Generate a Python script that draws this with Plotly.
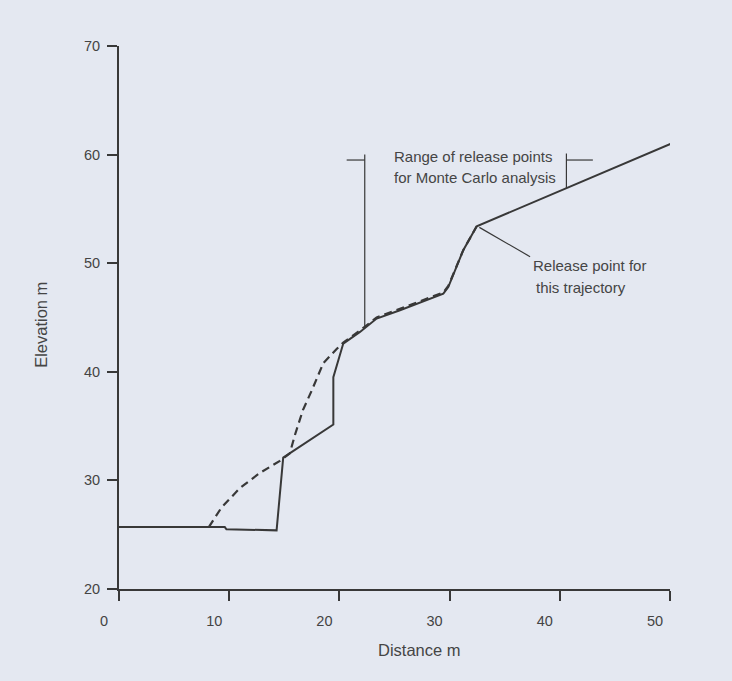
import plotly.graph_objects as go

# Ground profile (solid)
profile_x = [0, 9.6, 9.75, 14.3, 14.9, 19.45, 19.45, 20.35, 21.87, 23.38, 25.5, 27.92, 29.43, 29.88, 31.24, 32.46, 50.3]
profile_y = [25.7, 25.7, 25.5, 25.4, 32.1, 35.15, 39.5, 42.6, 43.67, 44.9, 45.67, 46.6, 47.2, 47.8, 51.2, 53.4, 61.1]

# Rockfall trajectory (dashed)
traj_x = [8.15, 9.3, 10.98, 12.8, 14.6, 15.5, 16.0, 16.7, 17.5, 18.54, 19.75, 20.35, 21.87, 23.38, 25.5, 27.92, 29.43, 29.88, 31.24, 32.46]
traj_y = [25.7, 27.5, 29.3, 30.7, 31.8, 32.5, 34.3, 36.5, 38.3, 40.8, 42.1, 42.7, 43.8, 45.0, 45.8, 46.7, 47.3, 47.9, 51.2, 53.4]

# Bracket marks for range of release points
bracket_x = [20.66, 22.3, None, 22.3, 22.3, None, 40.6, 43.0, None, 40.6, 40.6]
bracket_y = [59.5, 59.5, None, 60.0, 44.1, None, 59.5, 59.5, None, 60.1, 56.9]

# Leader line to release point
leader_x = [32.7, 37.3]
leader_y = [53.3, 50.6]

# Annotation text lines: (x, y, text)
notes = [
    (24.75, 59.83, "Range of release points"),
    (24.75, 57.87, "for Monte Carlo analysis"),
    (37.39, 49.8, "Release point for"),
    (37.69, 47.8, "this trajectory"),
]

x_ticks = [0, 10, 20, 30, 40, 50]
y_ticks = [20, 30, 40, 50, 60, 70]

BG = "#e4e8f1"
INK = "#383838"
TXT = "#454545"
FONT = "Liberation Sans, Arial, sans-serif"

fig = go.Figure()
fig.add_trace(go.Scatter(x=profile_x, y=profile_y, mode="lines",
                         line=dict(color=INK, width=2), showlegend=False, hoverinfo="skip"))
fig.add_trace(go.Scatter(x=traj_x, y=traj_y, mode="lines",
                         line=dict(color=INK, width=2.2, dash="8px,5px"), showlegend=False, hoverinfo="skip"))
fig.add_trace(go.Scatter(x=bracket_x, y=bracket_y, mode="lines",
                         line=dict(color=INK, width=1.2), showlegend=False, hoverinfo="skip"))
fig.add_trace(go.Scatter(x=leader_x, y=leader_y, mode="lines",
                         line=dict(color=INK, width=1.2), showlegend=False, hoverinfo="skip"))

for nx, ny, t in notes:
    fig.add_annotation(x=nx, y=ny, text=t, showarrow=False, xanchor="left", yanchor="middle",
                       font=dict(family=FONT, size=15, color=TXT))

# Axis titles
fig.add_annotation(xref="paper", yref="paper", x=0.546, y=-0.112, text="Distance m",
                   showarrow=False, xanchor="center", yanchor="middle",
                   font=dict(family=FONT, size=16.5, color=TXT))
fig.add_annotation(xref="paper", yref="paper", x=-0.142, y=0.486, text="Elevation m",
                   showarrow=False, xanchor="center", yanchor="middle", textangle=-90,
                   font=dict(family=FONT, size=16.5, color=TXT))

axis_common = dict(showgrid=False, zeroline=False, showline=True, linecolor=INK, linewidth=2,
                   ticks="outside", tickcolor=INK, tickwidth=2, ticklen=10,
                   tickfont=dict(family=FONT, size=14.5, color="#444444"))

fig.update_xaxes(range=[0, 50], tickvals=x_ticks, ticktext=[str(v) for v in x_ticks],
                 ticklabelshift=-15, ticklabelstandoff=8, **axis_common)
fig.update_yaxes(range=[20, 70], tickvals=y_ticks, ticktext=[str(v) for v in y_ticks],
                 ticklabelstandoff=4, **axis_common)

fig.update_layout(width=732, height=681, margin=dict(l=119, r=62, t=46, b=92),
                  paper_bgcolor=BG, plot_bgcolor=BG, showlegend=False)

fig.write_html("out.html")
